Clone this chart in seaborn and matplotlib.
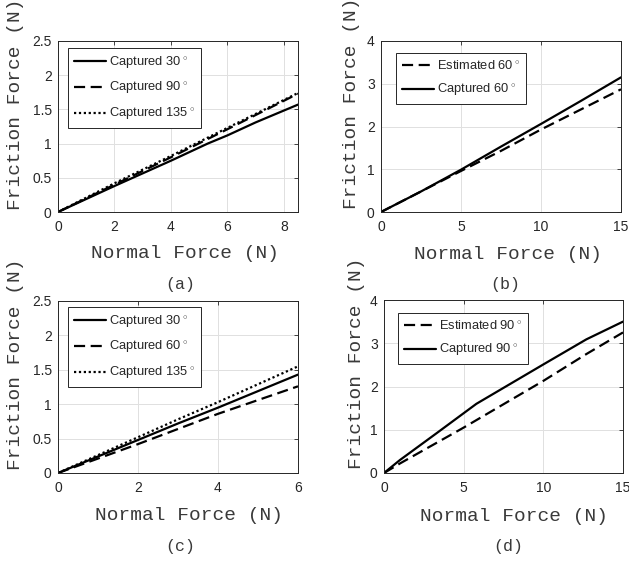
import matplotlib
matplotlib.use("Agg")
import matplotlib.pyplot as plt
import seaborn as sns
import numpy as np

sns.set_style("white")
plt.rcParams['font.family'] = ['Liberation Sans', 'DejaVu Sans']
plt.rcParams['mathtext.fontset'] = 'custom'
plt.rcParams['mathtext.rm'] = 'Liberation Sans'

# ---------------- data ----------------
# (a)
a_x30 = [0, 2, 4, 5.3, 6, 7, 8.5]
a_y30 = [0, 0.38, 0.75, 1.0, 1.12, 1.31, 1.57]
a_x90 = [0, 2, 4, 6, 8.5]
a_y90 = [0, 0.40, 0.80, 1.21, 1.73]
a_x135 = [0, 2, 4, 6, 8.5]
a_y135 = [0, 0.42, 0.82, 1.23, 1.74]
# (b)
b_x = [0, 2.5, 5, 7.5, 10, 12.5, 15]
b_est60 = [0, 0.48, 0.96, 1.43, 1.93, 2.40, 2.87]
b_cap60 = [0, 0.48, 0.99, 1.53, 2.06, 2.60, 3.15]
# (c)
c_x = [0, 1, 2, 3, 4, 5, 6]
c_y30 = [0, 0.24, 0.48, 0.72, 0.95, 1.19, 1.43]
c_y60 = [0, 0.21, 0.42, 0.64, 0.86, 1.06, 1.26]
c_y135 = [0, 0.26, 0.52, 0.78, 1.03, 1.29, 1.55]
# (d)
d_xe = [0, 1, 5, 10, 12.7, 15]
d_est90 = [0, 0.22, 1.05, 2.13, 2.75, 3.25]
d_xc = [0, 1, 3.3, 5.8, 10, 12.7, 15]
d_cap90 = [0, 0.30, 0.92, 1.60, 2.51, 3.09, 3.50]

# ---------------- figure ----------------
W, H = 629, 563
fig = plt.figure(figsize=(W / 100, H / 100), dpi=100)

def add_ax(l, r, t, b):
    return fig.add_axes([l / W, 1 - b / H, (r - l) / W, (b - t) / H])

mono = ['Liberation Mono', 'DejaVu Sans Mono']
lab_col = '#3a3a3a'
tick_col = '#262626'
DASH = (0, (5, 2.5))
DOT = (0, (1, 1.2))

def style_ax(ax, xlim, ylim, xticks, yticks, yticklabels, ylab_x, ylab_y, xlab_x, xlab_y):
    ax.set_xlim(*xlim)
    ax.set_ylim(*ylim)
    ax.set_xticks(xticks)
    ax.set_yticks(yticks)
    ax.set_yticklabels(yticklabels)
    ax.grid(True, color='#e0e0e0', lw=0.7)
    ax.set_axisbelow(True)
    for s in ax.spines.values():
        s.set_color(tick_col)
        s.set_linewidth(0.7)
        s.set_visible(True)
    ax.tick_params(direction='in', length=3, width=0.6, top=True, right=True,
                   labelsize=10, colors=tick_col)
    ax.tick_params(axis='x', pad=6)
    ax.tick_params(axis='y', pad=4.5)
    ax.set_xlabel('Normal Force (N)', family=mono, fontsize=14, color=lab_col, va='center')
    ax.set_ylabel('Friction Force (N)', family=mono, fontsize=14, color=lab_col, va='center')
    ax.xaxis.set_label_coords(xlab_x, xlab_y)
    ax.yaxis.set_label_coords(ylab_x, ylab_y)

def legend(ax, x, y):
    leg = ax.legend(loc='upper left', bbox_to_anchor=(x, y), borderaxespad=0,
                    fontsize=9.3, handlelength=2.5, handletextpad=0.2,
                    labelspacing=0.7, borderpad=0.45, fancybox=False,
                    framealpha=1, edgecolor='#262626')
    leg.get_frame().set_linewidth(0.7)

deg = r'$\,^{\circ}$'

# (a)
axa = add_ax(58, 298, 41, 212)
sns.lineplot(x=a_x30, y=a_y30, ax=axa, color='k', lw=1.6, label='Captured 30' + deg)
sns.lineplot(x=a_x90, y=a_y90, ax=axa, color='k', lw=1.6, linestyle=DASH, label='Captured 90' + deg)
sns.lineplot(x=a_x135, y=a_y135, ax=axa, color='k', lw=1.6, linestyle=DOT, label='Captured 135' + deg)
style_ax(axa, (0, 8.5), (0, 2.5), [0, 2, 4, 6, 8], [0, 0.5, 1, 1.5, 2, 2.5],
         ['0', '0.5', '1', '1.5', '2', '2.5'], -0.179, 0.632, 0.529, -0.24)
legend(axa, 0.042, 0.959)

# (b)
axb = add_ax(381, 621, 41, 212)
sns.lineplot(x=b_x, y=b_est60, ax=axb, color='k', lw=1.6, linestyle=DASH, label='Estimated 60' + deg)
sns.lineplot(x=b_x, y=b_cap60, ax=axb, color='k', lw=1.6, label='Captured 60' + deg)
style_ax(axb, (0, 15), (0, 4), [0, 5, 10, 15], [0, 1, 2, 3, 4],
         ['0', '1', '2', '3', '4'], -0.121, 0.637, 0.53, -0.25)
legend(axb, (396 - 381) / 240, (212 - 53) / 171)

# (c)
axc = add_ax(58, 298, 301, 473)
sns.lineplot(x=c_x, y=c_y30, ax=axc, color='k', lw=1.6, label='Captured 30' + deg)
sns.lineplot(x=c_x, y=c_y60, ax=axc, color='k', lw=1.6, linestyle=DASH, label='Captured 60' + deg)
sns.lineplot(x=c_x, y=c_y135, ax=axc, color='k', lw=1.6, linestyle=DOT, label='Captured 135' + deg)
style_ax(axc, (0, 6), (0, 2.5), [0, 2, 4, 6], [0, 0.5, 1, 1.5, 2, 2.5],
         ['0', '0.5', '1', '1.5', '2', '2.5'], -0.179, 0.634, 0.546, -0.25)
legend(axc, (68 - 58) / 240, (473 - 307) / 172)

# (d)
axd = add_ax(384, 623, 300, 473)
sns.lineplot(x=d_xe, y=d_est90, ax=axd, color='k', lw=1.6, linestyle=DASH, label='Estimated 90' + deg)
sns.lineplot(x=d_xc, y=d_cap90, ax=axd, color='k', lw=1.6, label='Captured 90' + deg)
style_ax(axd, (0, 15), (0, 4), [0, 5, 10, 15], [0, 1, 2, 3, 4],
         ['0', '1', '2', '3', '4'], -0.117, 0.634, 0.544, -0.249)
legend(axd, (398 - 384) / 239, (473 - 313) / 173)

# sub captions
for txt, x, y in [('(a)', 180, 285), ('(b)', 505, 285), ('(c)', 180, 547), ('(d)', 508, 547)]:
    fig.text(x / W, 1 - y / H, txt, family=mono, fontsize=12, color=lab_col,
             ha='center', va='center')

fig.savefig('out.png', dpi=100)
